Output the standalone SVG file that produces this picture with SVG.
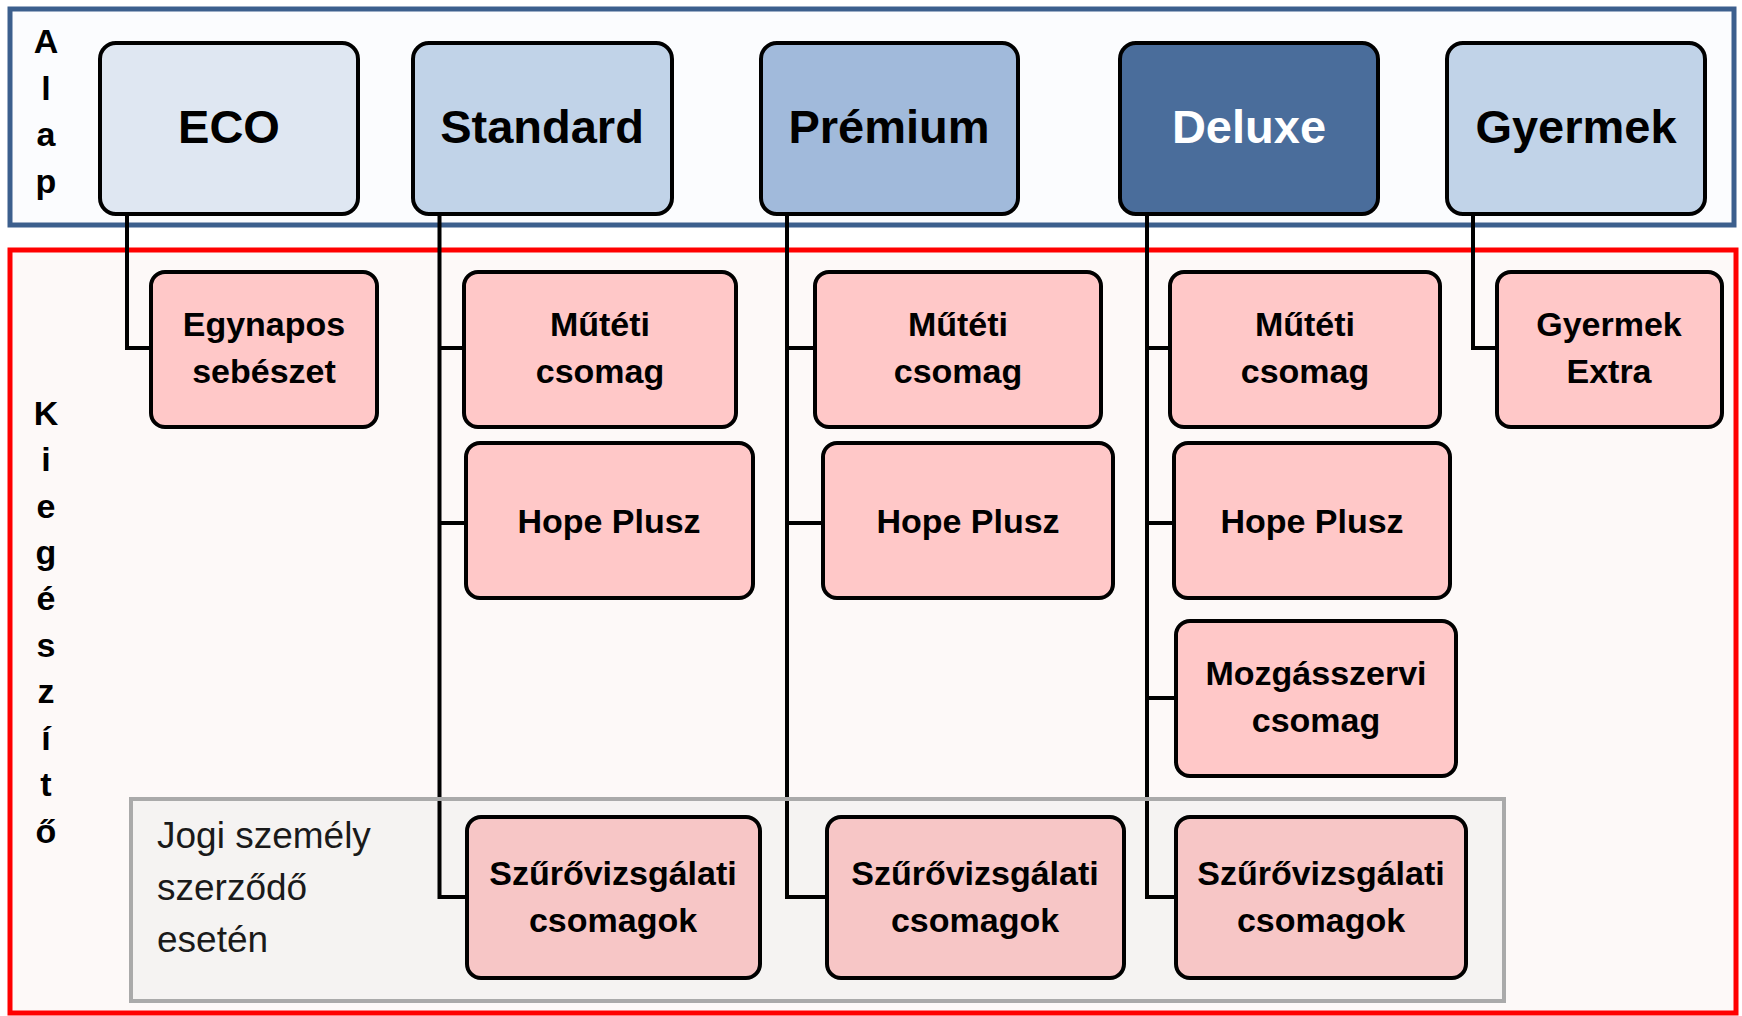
<svg xmlns="http://www.w3.org/2000/svg" width="1742" height="1016" viewBox="0 0 1742 1016">
<style>
.frameA{fill:#fbfcfe;stroke:#3c5f8d;stroke-width:5}
.frameK{fill:#fdf9f8;stroke:#ff0000;stroke-width:5}
.gray{fill:#f5f3f2;stroke:#aaaaaa;stroke-width:4}
.grayline{fill:none;stroke:#aaaaaa;stroke-width:4}
.top{stroke:#000;stroke-width:4}
.sub{fill:#ffc8c8;stroke:#000;stroke-width:4}
.sub2{fill:#f7c6c6;stroke:#000;stroke-width:4}
.conn{fill:none;stroke:#000;stroke-width:4}
.tt{font-family:"Liberation Sans",Arial,sans-serif;font-weight:bold;font-size:47px;text-anchor:middle;fill:#000}
.st{font-family:"Liberation Sans",Arial,sans-serif;font-weight:bold;font-size:34px;text-anchor:middle;fill:#000}
.vt{font-family:"Liberation Sans",Arial,sans-serif;font-weight:bold;font-size:34px;text-anchor:middle;fill:#000}
.jt{font-family:"Liberation Sans",Arial,sans-serif;font-size:37px;fill:#1a1a1a}
</style>
<rect class="frameA" x="10" y="9" width="1724" height="216"/>
<rect class="frameK" x="10" y="250" width="1726" height="763"/>
<g id="side-labels">
<text class="vt" x="46" y="53">A</text>
<text class="vt" x="46" y="100">l</text>
<text class="vt" x="46" y="146">a</text>
<text class="vt" x="46" y="193">p</text>
<text class="vt" x="46" y="425">K</text>
<text class="vt" x="46" y="471">i</text>
<text class="vt" x="46" y="518">e</text>
<text class="vt" x="46" y="564">g</text>
<text class="vt" x="46" y="610">é</text>
<text class="vt" x="46" y="657">s</text>
<text class="vt" x="46" y="703">z</text>
<text class="vt" x="46" y="750">í</text>
<text class="vt" x="46" y="796">t</text>
<text class="vt" x="46" y="843">ő</text>
</g>
<g id="jogi">
<rect class="gray" x="131" y="799" width="1373" height="202"/>
<text class="jt" x="157" y="848">Jogi személy</text>
<text class="jt" x="157" y="900">szerződő</text>
<text class="jt" x="157" y="952">esetén</text>
</g>
<g id="connectors">
<path class="conn" d="M127,214 V348 H151"/>
<path class="conn" d="M439.5,214 V897 H467 M439.5,348 H464 M439.5,523 H466"/>
<path class="conn" d="M787,214 V897 H827 M787,348 H815 M787,523 H823"/>
<path class="conn" d="M1147,214 V897 H1176 M1147,348 H1170 M1147,523 H1174 M1147,698 H1176"/>
<path class="conn" d="M1473,214 V348 H1497"/>
</g>
<rect class="grayline" x="131" y="799" width="1373" height="202"/>
<g id="eco"><rect class="top" x="100" y="43" width="258" height="171" rx="16" fill="#dfe7f2"/><text class="tt" x="229" y="143">ECO</text></g>
<g id="standard"><rect class="top" x="413" y="43" width="259" height="171" rx="16" fill="#c1d3e8"/><text class="tt" x="542" y="143">Standard</text></g>
<g id="premium"><rect class="top" x="761" y="43" width="257" height="171" rx="16" fill="#a1badb"/><text class="tt" x="889" y="143">Prémium</text></g>
<g id="deluxe"><rect class="top" x="1120" y="43" width="258" height="171" rx="16" fill="#4a6d9b"/><text class="tt" x="1249" y="143" style="fill:#fff">Deluxe</text></g>
<g id="gyermek"><rect class="top" x="1447" y="43" width="258" height="171" rx="16" fill="#c1d3e8"/><text class="tt" x="1576" y="143">Gyermek</text></g>
<g id="eco-egynapos"><rect class="sub" x="151" y="272" width="226" height="155" rx="14"/><text class="st" x="264" y="336">Egynapos</text><text class="st" x="264" y="383">sebészet</text></g>
<g id="std-mutet"><rect class="sub" x="464" y="272" width="272" height="155" rx="14"/><text class="st" x="600" y="336">Műtéti</text><text class="st" x="600" y="383">csomag</text></g>
<g id="std-hope"><rect class="sub" x="466" y="443" width="287" height="155" rx="14"/><text class="st" x="609" y="533">Hope Plusz</text></g>
<g id="std-szuro"><rect class="sub2" x="467" y="817" width="293" height="161" rx="14"/><text class="st" x="613" y="885">Szűrővizsgálati</text><text class="st" x="613" y="932">csomagok</text></g>
<g id="prem-mutet"><rect class="sub" x="815" y="272" width="286" height="155" rx="14"/><text class="st" x="958" y="336">Műtéti</text><text class="st" x="958" y="383">csomag</text></g>
<g id="prem-hope"><rect class="sub" x="823" y="443" width="290" height="155" rx="14"/><text class="st" x="968" y="533">Hope Plusz</text></g>
<g id="prem-szuro"><rect class="sub2" x="827" y="817" width="297" height="161" rx="14"/><text class="st" x="975" y="885">Szűrővizsgálati</text><text class="st" x="975" y="932">csomagok</text></g>
<g id="dlx-mutet"><rect class="sub" x="1170" y="272" width="270" height="155" rx="14"/><text class="st" x="1305" y="336">Műtéti</text><text class="st" x="1305" y="383">csomag</text></g>
<g id="dlx-hope"><rect class="sub" x="1174" y="443" width="276" height="155" rx="14"/><text class="st" x="1312" y="533">Hope Plusz</text></g>
<g id="dlx-mozgas"><rect class="sub" x="1176" y="621" width="280" height="155" rx="14"/><text class="st" x="1316" y="685">Mozgásszervi</text><text class="st" x="1316" y="732">csomag</text></g>
<g id="dlx-szuro"><rect class="sub2" x="1176" y="817" width="290" height="161" rx="14"/><text class="st" x="1321" y="885">Szűrővizsgálati</text><text class="st" x="1321" y="932">csomagok</text></g>
<g id="gy-extra"><rect class="sub" x="1497" y="272" width="225" height="155" rx="14"/><text class="st" x="1609" y="336">Gyermek</text><text class="st" x="1609" y="383">Extra</text></g>
</svg>
